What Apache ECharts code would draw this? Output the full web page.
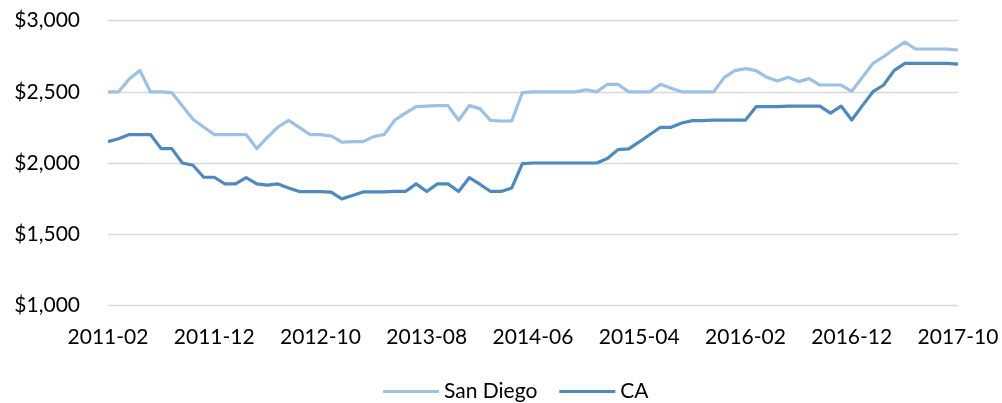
<!DOCTYPE html>
<html>
<head>
<meta charset="utf-8">
<script src="https://cdn.jsdelivr.net/npm/echarts@6/dist/echarts.min.js"></script>
<style>
html,body{margin:0;padding:0;background:#fff;}
#chart{width:1002px;height:403px;}
</style>
</head>
<body>
<div id="chart"></div>
<script>
// Monthly categories 2011-02 .. 2017-10
var startYear = 2011, startMonth = 2, monthCount = 81;
var categories = [];
for (var k = 0; k < monthCount; k++) {
  var m = startMonth - 1 + k;
  var y = startYear + Math.floor(m / 12);
  var mm = (m % 12) + 1;
  categories.push(y + '-' + (mm < 10 ? '0' + mm : '' + mm));
}

var seriesNames = ['San Diego', 'CA'];

var sanDiego = [
  2500, 2500, 2590, 2650, 2500, 2500, 2495, 2400, 2307, 2253,
  2200, 2200, 2200, 2200, 2101, 2180, 2253, 2300, 2250, 2200,
  2200, 2190, 2146, 2150, 2150, 2185, 2200, 2302, 2350, 2396,
  2400, 2403, 2403, 2300, 2403, 2382, 2300, 2295, 2295, 2495,
  2500, 2500, 2500, 2500, 2500, 2515, 2500, 2553, 2553, 2500,
  2500, 2500, 2553, 2525, 2500, 2500, 2500, 2500, 2602, 2649,
  2663, 2649, 2602, 2576, 2602, 2572, 2593, 2548, 2548, 2548,
  2504, 2602, 2700, 2747, 2801, 2850, 2801, 2801, 2801, 2800,
  2794
];

var ca = [
  2150, 2171, 2200, 2200, 2200, 2101, 2101, 2000, 1984, 1900,
  1900, 1853, 1853, 1897, 1853, 1844, 1853, 1825, 1799, 1799,
  1799, 1795, 1748, 1771, 1797, 1797, 1797, 1800, 1800, 1853,
  1800, 1853, 1853, 1800, 1897, 1851, 1800, 1800, 1825, 1995,
  2000, 2000, 2000, 2000, 2000, 2000, 2000, 2031, 2094, 2099,
  2148, 2200, 2251, 2251, 2281, 2298, 2298, 2302, 2302, 2302,
  2302, 2396, 2396, 2396, 2400, 2400, 2400, 2400, 2350, 2400,
  2302, 2403, 2501, 2548, 2651, 2700, 2700, 2700, 2700, 2700,
  2695
];

var yMin = 1000, yMax = 3000, yStep = 500;
var colors = ['#9cc1e5', '#4e89bf'];
var font = 'Lato';

var chart = echarts.init(document.getElementById('chart'), null, {renderer: 'canvas'});
chart.setOption({
  animation: false,
  color: colors,
  grid: {left: 108, right: 44, top: 20.7, bottom: 97.7, containLabel: false},
  xAxis: {
    type: 'category',
    data: categories,
    boundaryGap: false,
    axisLine: {show: false},
    axisTick: {show: false},
    axisLabel: {
      interval: 9,
      margin: 21,
      color: '#000',
      fontFamily: font,
      fontSize: 21
    },
    splitLine: {show: false}
  },
  yAxis: {
    type: 'value',
    min: yMin,
    max: yMax,
    interval: yStep,
    axisLine: {show: false},
    axisTick: {show: false},
    axisLabel: {
      margin: 28,
      color: '#000',
      fontFamily: font,
      fontSize: 21,
      formatter: function (v) { return '$' + v.toLocaleString('en-US'); }
    },
    splitLine: {lineStyle: {color: '#d9d9d9', width: 1.3}}
  },
  legend: {
    data: seriesNames,
    left: 378,
    top: 376,
    icon: 'rect',
    itemWidth: 56,
    itemHeight: 3,
    itemGap: 22,
    textStyle: {fontFamily: font, fontSize: 21, color: '#000'}
  },
  series: [
    {
      name: seriesNames[0],
      type: 'line',
      data: sanDiego,
      showSymbol: false,
      symbol: 'none',
      lineStyle: {width: 3.2, color: colors[0], join: 'round'},
      itemStyle: {color: colors[0]}
    },
    {
      name: seriesNames[1],
      type: 'line',
      data: ca,
      showSymbol: false,
      symbol: 'none',
      lineStyle: {width: 3.2, color: colors[1], join: 'round'},
      itemStyle: {color: colors[1]}
    }
  ]
});
</script>
</body>
</html>
